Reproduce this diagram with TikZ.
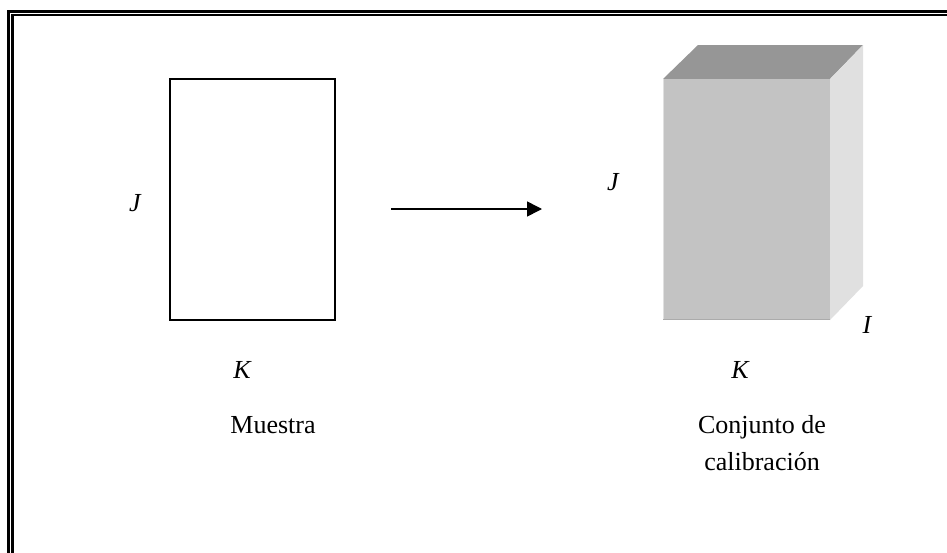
\documentclass[tikz,border=0pt]{standalone}
\usepackage{fontspec}
\setmainfont{Liberation Serif}
\usetikzlibrary{arrows.meta}
\definecolor{frontgray}{HTML}{C3C3C3}
\definecolor{topgray}{HTML}{969696}
\definecolor{sidegray}{HTML}{E0E0E0}
\tikzset{
  lbl/.style={font=\fontsize{26}{30}\selectfont\itshape, inner sep=0pt},
  txt/.style={font=\fontsize{26}{37}\selectfont, inner sep=0pt, align=center},
  outerline/.style={line width=3pt},
  innerline/.style={line width=2.4pt},
}
\begin{document}
\begin{tikzpicture}[x=1pt,y=-1pt]
\useasboundingbox (0,0) rectangle (947,552);
\clip (0,0) rectangle (947,552);
\fill[white] (0,0) rectangle (947,552);
% double frame (open to right and bottom)
\draw[outerline] (8,600) -- (8,11) -- (1000,11);
\draw[innerline] (12.3,600) -- (12.3,15) -- (1000,15);
% sample matrix
\node[draw, line width=2pt, minimum width=165pt, minimum height=241pt, inner sep=0pt] (muestra) at (252.5,199.5) {};
\node[lbl] (J1) at (135,203) {J};
\node[lbl] (K1) at (242,370) {K};
\node[txt] (tM) at (273,425) {Muestra};
% arrow
\coordinate (a1) at (391,209);
\coordinate (a2) at (542,209);
\draw[line width=1.6pt, -{Triangle[length=15pt,width=15pt]}] (a1) -- (a2);
% 3D block
\fill[topgray] (663,79) -- (698,45) -- (863,45) -- (830,79) -- cycle;
\fill[sidegray] (830,79) -- (863,45) -- (863,286) -- (830,320) -- cycle;
\node[fill=frontgray, minimum width=167pt, minimum height=241pt, inner sep=0pt] (cubo) at (746.5,199.5) {};
\draw[line width=1.2pt, color=black!12] (663.6,79) -- (663.6,320);
\draw[line width=1.2pt, color=black!33] (663,319.4) -- (830,319.4);
\node[lbl] (J2) at (613,182) {J};
\node[lbl] (I2) at (867,325) {I};
\node[lbl] (K2) at (740,370) {K};
\node[txt] (tC) at (762,443) {Conjunto de\\calibración};
\end{tikzpicture}
\end{document}
